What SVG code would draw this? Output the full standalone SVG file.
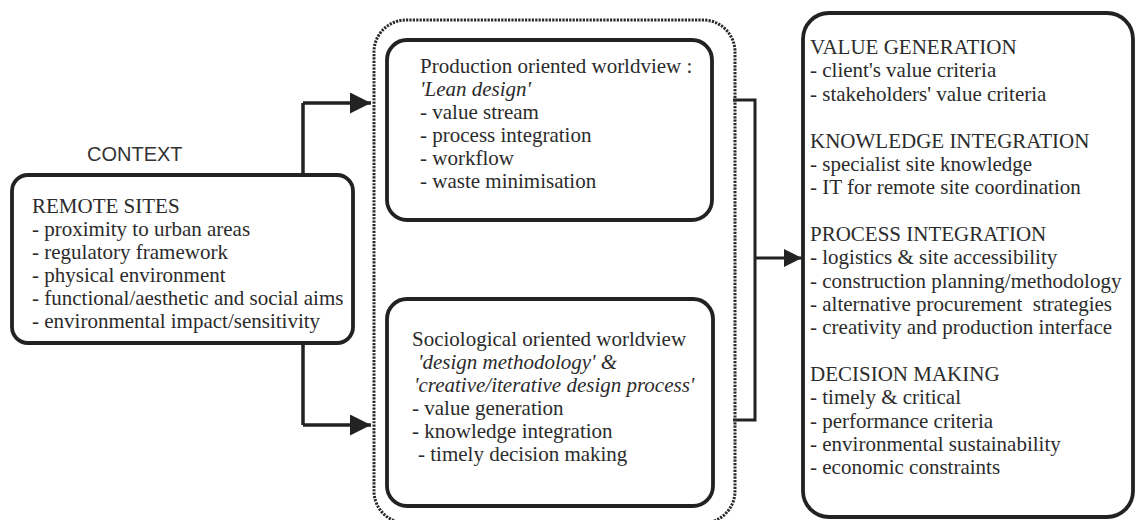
<svg xmlns="http://www.w3.org/2000/svg" width="1137" height="520" viewBox="0 0 1137 520">
<style>
.box{fill:#fff;stroke:#222;stroke-width:3.8}
.dash{fill:none;stroke:#2a2a2a;stroke-width:3;stroke-dasharray:2.2 1.2}
.ln{fill:none;stroke:#222;stroke-width:3.5}
.br{fill:none;stroke:#222;stroke-width:3}
.t{font-family:"Liberation Serif","Times New Roman",serif;font-size:21px;fill:#2b2b2b}
.i{font-style:italic}
.s{font-family:"Liberation Sans",Arial,sans-serif;font-size:20px;fill:#333}
</style>
<defs>
<marker id="ah" viewBox="0 0 10 10" refX="10" refY="5" markerWidth="7" markerHeight="6" markerUnits="strokeWidth" orient="auto">
<path d="M0,0 L10,5 L0,10 z" fill="#222"/>
</marker>
</defs>
<rect width="1137" height="520" fill="#fff"/>
<g id="connectors">
<path class="ln" d="M303,103 V425"/>
<path class="ln" d="M303,103 H371" marker-end="url(#ah)"/>
<path class="ln" d="M303,425 H371" marker-end="url(#ah)"/>
<path class="br" d="M733,100 H755 V420 H733"/>
<path class="br" d="M755,258 H802" marker-end="url(#ah)"/>
</g>
<g id="context-label">
<text class="s" x="87" y="161">CONTEXT</text>
</g>
<g id="remote-sites">
<rect class="box" x="12" y="175" width="341" height="168" rx="16"/>
<text class="t" x="32" y="213">REMOTE SITES</text>
<text class="t" x="32" y="236">- proximity to urban areas</text>
<text class="t" x="32" y="259">- regulatory framework</text>
<text class="t" x="32" y="282">- physical environment</text>
<text class="t" x="32" y="305">- functional/aesthetic and social aims</text>
<text class="t" x="32" y="328">- environmental impact/sensitivity</text>
</g>
<g id="worldviews">
<rect class="dash" x="374" y="20" width="361" height="503" rx="32"/>
</g>
<g id="production">
<rect class="box" x="387" y="40" width="325" height="180" rx="20"/>
<text class="t" x="420" y="73">Production oriented worldview :</text>
<text class="t i" x="420" y="96">'Lean design'</text>
<text class="t" x="420" y="119">- value stream</text>
<text class="t" x="420" y="142">- process integration</text>
<text class="t" x="420" y="165">- workflow</text>
<text class="t" x="420" y="188">- waste minimisation</text>
</g>
<g id="sociological">
<rect class="box" x="387" y="299" width="326" height="207" rx="20"/>
<text class="t" x="412" y="346">Sociological oriented worldview</text>
<text class="t i" x="418" y="369">'design methodology' &amp;</text>
<text class="t i" x="414" y="392">'creative/iterative design process'</text>
<text class="t" x="412" y="415">- value generation</text>
<text class="t" x="412" y="438">- knowledge integration</text>
<text class="t" x="418" y="461">- timely decision making</text>
</g>
<g id="outcomes">
<rect class="box" x="803" y="13" width="330" height="504" rx="26"/>
<text class="t" x="810" y="54">VALUE GENERATION</text>
<text class="t" x="810" y="77">- client's value criteria</text>
<text class="t" x="810" y="101">- stakeholders' value criteria</text>
<text class="t" x="810" y="148">KNOWLEDGE INTEGRATION</text>
<text class="t" x="810" y="171">- specialist site knowledge</text>
<text class="t" x="810" y="194">- IT for remote site coordination</text>
<text class="t" x="810" y="241">PROCESS INTEGRATION</text>
<text class="t" x="810" y="264">- logistics &amp; site accessibility</text>
<text class="t" x="810" y="288">- construction planning/methodology</text>
<text class="t" x="810" y="311" xml:space="preserve">- alternative procurement  strategies</text>
<text class="t" x="810" y="334">- creativity and production interface</text>
<text class="t" x="810" y="381">DECISION MAKING</text>
<text class="t" x="810" y="404">- timely &amp; critical</text>
<text class="t" x="810" y="428">- performance criteria</text>
<text class="t" x="810" y="451">- environmental sustainability</text>
<text class="t" x="810" y="474">- economic constraints</text>
</g>
</svg>
